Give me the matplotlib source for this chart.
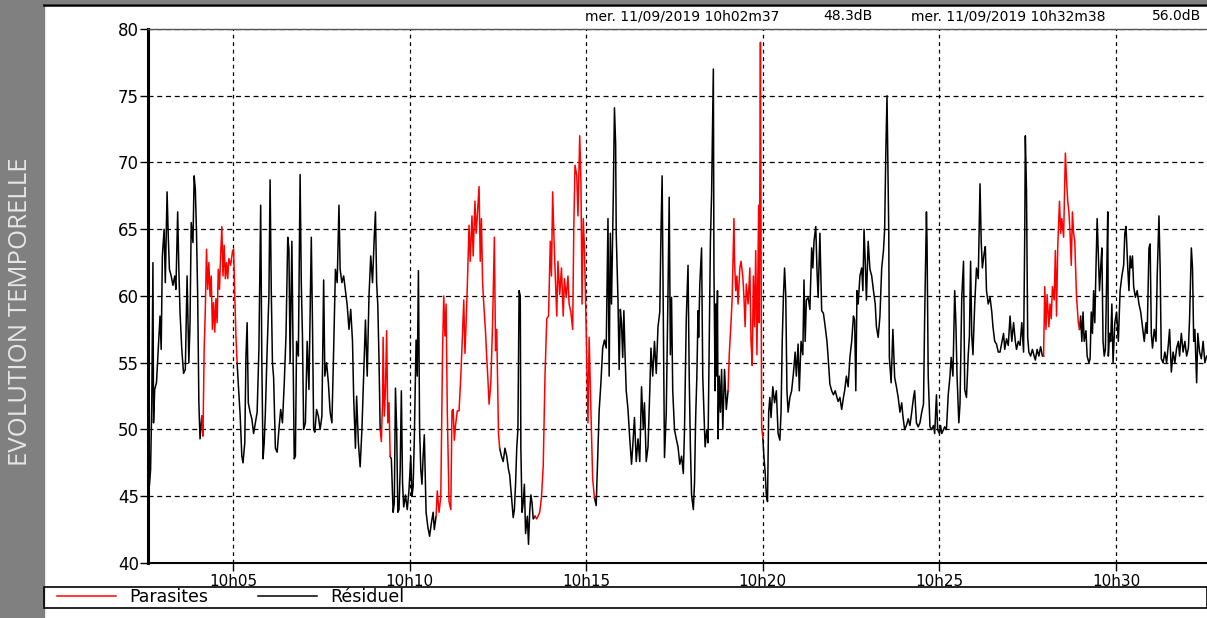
import numpy as np
import matplotlib.pyplot as plt
from matplotlib.patches import Rectangle
from matplotlib.lines import Line2D

# sound level, seconds after 10h00m00 -> dB
t_sec = [
    156, 158, 160, 162, 164, 165, 167, 170, 173, 176, 178, 180, 183, 185, 188, 190, 192, 195, 198, 201,
    203, 206, 208, 210, 213, 216, 219, 222, 225, 227, 229, 232, 234, 236, 238, 240, 242, 244, 247, 249,
    251, 253, 255, 257, 259, 261, 263, 265, 267, 269, 271, 273, 275, 277, 279, 281, 283, 285, 287, 289,
    291, 293, 296, 299, 301, 303, 305, 307, 309, 312, 315, 317, 320, 322, 324, 326, 329, 332, 335, 338,
    341, 344, 347, 349, 351, 353, 355, 358, 361, 363, 365, 367, 369, 372, 375, 378, 381, 384, 387, 390,
    393, 395, 397, 400, 402, 404, 406, 408, 411, 414, 416, 418, 420, 423, 426, 429, 433, 435, 437, 439,
    442, 445, 448, 451, 454, 456, 459, 462, 465, 468, 471, 474, 477, 480, 482, 485, 488, 491, 494, 497,
    500, 503, 505, 508, 510, 513, 516, 519, 522, 525, 528, 531, 534, 537, 540, 542, 544, 546, 548, 550,
    552, 554, 555, 557, 559, 561, 563, 565, 567, 569, 572, 574, 576, 578, 580, 582, 584, 586, 588, 590,
    593, 596, 599, 602, 604, 606, 608, 611, 613, 615, 617, 619, 621, 623, 625, 628, 631, 634, 637, 640,
    642, 645, 647, 650, 653, 656, 658, 660, 662, 664, 667, 670, 672, 674, 676, 678, 681, 684, 687, 690,
    692, 694, 696, 698, 701, 703, 706, 708, 711, 713, 715, 718, 720, 722, 724, 726, 729, 731, 733, 735,
    738, 741, 744, 746, 748, 751, 753, 756, 759, 762, 765, 768, 770, 773, 776, 778, 780, 782, 784, 786,
    788, 789, 791, 793, 795, 797, 800, 802, 804, 806, 808, 810, 813, 816, 819, 821, 824, 827, 830, 833,
    836, 839, 841, 843, 845, 847, 850, 852, 855, 858, 861, 863, 866, 869, 871, 874, 877, 879, 881, 884,
    886, 889, 891, 893, 895, 897, 900, 903, 905, 908, 911, 914, 917, 920, 922, 925, 928, 931, 934, 937,
    939, 941, 943, 946, 948, 950, 951, 954, 956, 958, 960, 962, 964, 966, 968, 971, 974, 977, 979, 982,
    985, 988, 991, 994, 997, 999, 1002, 1005, 1008, 1010, 1013, 1016, 1019, 1022, 1025, 1027, 1029, 1031, 1033, 1036,
    1039, 1041, 1043, 1045, 1047, 1050, 1053, 1056, 1059, 1062, 1065, 1067, 1070, 1073, 1075, 1077, 1079, 1082, 1084, 1086,
    1088, 1090, 1091, 1093, 1096, 1098, 1100, 1102, 1105, 1107, 1109, 1111, 1113, 1116, 1117, 1119, 1120, 1121, 1123, 1124,
    1126, 1128, 1130, 1132, 1135, 1138, 1141, 1143, 1146, 1148, 1151, 1152, 1154, 1156, 1158, 1161, 1163, 1166, 1168, 1170,
    1172, 1175, 1178, 1180, 1182, 1184, 1186, 1188, 1190, 1193, 1194, 1196, 1197, 1198, 1200, 1202, 1204, 1206, 1208, 1210,
    1212, 1214, 1217, 1220, 1223, 1226, 1229, 1231, 1233, 1235, 1237, 1239, 1241, 1243, 1246, 1249, 1252, 1255, 1257, 1260,
    1262, 1265, 1268, 1270, 1272, 1274, 1277, 1280, 1283, 1285, 1287, 1290, 1292, 1294, 1297, 1300, 1303, 1306, 1309, 1311,
    1314, 1317, 1320, 1323, 1326, 1328, 1331, 1334, 1337, 1339, 1342, 1345, 1348, 1351, 1354, 1356, 1358, 1360, 1362, 1365,
    1368, 1370, 1372, 1374, 1376, 1379, 1382, 1385, 1388, 1391, 1393, 1396, 1399, 1402, 1405, 1407, 1409, 1411, 1412, 1414,
    1415, 1418, 1421, 1424, 1427, 1430, 1433, 1436, 1438, 1441, 1444, 1447, 1450, 1453, 1456, 1458, 1461, 1464, 1467, 1470,
    1473, 1475, 1478, 1479, 1481, 1484, 1487, 1490, 1492, 1495, 1497, 1500, 1502, 1504, 1507, 1509, 1512, 1515, 1518, 1520,
    1523, 1526, 1528, 1530, 1533, 1535, 1538, 1541, 1543, 1546, 1549, 1551, 1553, 1555, 1557, 1560, 1563, 1566, 1569, 1571,
    1573, 1576, 1578, 1580, 1583, 1586, 1589, 1591, 1594, 1597, 1600, 1603, 1606, 1609, 1611, 1614, 1617, 1620, 1623, 1626,
    1629, 1631, 1634, 1637, 1640, 1643, 1645, 1646, 1648, 1650, 1652, 1655, 1658, 1661, 1663, 1666, 1669, 1672, 1675, 1677,
    1679, 1681, 1683, 1686, 1688, 1690, 1692, 1695, 1697, 1699, 1701, 1704, 1706, 1708, 1711, 1714, 1716, 1718, 1720, 1722,
    1724, 1726, 1728, 1730, 1731, 1733, 1736, 1738, 1740, 1742, 1744, 1746, 1749, 1751, 1754, 1756, 1758, 1760, 1762, 1764,
    1766, 1768, 1770, 1772, 1774, 1776, 1778, 1780, 1782, 1784, 1786, 1787, 1789, 1791, 1793, 1795, 1798, 1801, 1804, 1807,
    1810, 1813, 1815, 1817, 1820, 1822, 1824, 1826, 1828, 1830, 1833, 1836, 1839, 1842, 1845, 1848, 1851, 1853, 1856, 1858,
    1860, 1862, 1865, 1868, 1870, 1873, 1875, 1877, 1880, 1883, 1886, 1889, 1891, 1894, 1897, 1900, 1903, 1906, 1908, 1911,
    1914, 1917, 1920, 1923, 1925, 1928, 1930, 1932, 1934, 1937, 1939, 1942, 1945, 1948, 1951, 1954,
]
level_db = [
    46.5, 45.8, 47.0, 52.0, 62.5, 50.5, 53.0, 53.5, 56.0, 58.5, 56.0, 63.0, 65.0, 61.0, 67.8, 64.5, 62.0, 61.5, 60.8, 61.5,
    60.5, 66.3, 62.0, 58.8, 56.0, 54.2, 54.5, 61.5, 55.0, 58.0, 65.5, 64.0, 69.0, 68.0, 64.7, 60.0, 52.0, 49.3, 51.0, 49.5,
    56.0, 59.0, 63.5, 60.5, 62.5, 60.0, 61.5, 57.5, 59.5, 57.3, 59.8, 58.0, 62.0, 60.5, 63.0, 65.2, 61.5, 63.8, 61.3, 62.5,
    61.3, 62.8, 62.3, 63.3, 63.5, 60.0, 57.0, 55.0, 53.4, 51.2, 48.0, 47.5, 49.0, 55.5, 58.0, 52.0, 51.3, 50.8, 49.7, 50.5,
    51.3, 56.0, 66.8, 55.0, 47.8, 49.0, 51.3, 56.0, 60.0, 68.7, 60.4, 55.0, 53.9, 48.6, 48.3, 50.0, 51.5, 50.5, 53.4, 57.0,
    64.4, 63.5, 55.0, 64.1, 56.0, 47.8, 48.0, 56.6, 55.5, 69.1, 60.9, 57.0, 50.0, 50.5, 56.6, 53.0, 64.4, 58.0, 50.0, 49.8,
    51.5, 51.0, 50.0, 51.0, 61.2, 54.0, 55.0, 53.5, 51.3, 50.5, 56.0, 62.0, 61.0, 66.8, 62.0, 61.0, 61.5, 60.4, 59.3, 57.5,
    59.0, 56.6, 52.4, 48.6, 52.5, 49.0, 47.2, 50.0, 54.0, 58.2, 54.0, 60.0, 63.0, 61.0, 64.5, 66.3, 61.0, 59.3, 55.3, 50.0,
    49.1, 52.0, 56.9, 51.0, 53.0, 57.4, 50.5, 52.0, 48.0, 47.8, 43.8, 44.5, 53.1, 50.0, 43.8, 44.0, 47.0, 52.9, 46.0, 44.2,
    45.1, 44.0, 45.5, 48.0, 45.0, 45.7, 49.3, 56.7, 54.0, 61.9, 50.0, 47.0, 45.9, 48.0, 49.6, 43.8, 42.7, 42.0, 43.0, 43.8,
    42.5, 43.5, 45.4, 43.8, 45.0, 55.9, 60.0, 57.0, 59.4, 51.4, 44.6, 44.0, 51.4, 51.5, 49.2, 50.3, 51.4, 51.4, 54.0, 57.3,
    59.7, 55.7, 58.0, 60.7, 65.3, 62.6, 66.0, 63.0, 67.1, 64.7, 66.0, 68.2, 62.6, 65.8, 61.0, 59.4, 57.3, 55.4, 53.8, 51.9,
    53.5, 58.0, 64.4, 55.9, 57.5, 49.7, 48.6, 48.0, 47.6, 48.6, 48.0, 47.0, 46.6, 45.0, 43.4, 44.0, 45.9, 48.6, 50.0, 60.4,
    60.0, 48.6, 43.8, 44.5, 45.9, 42.2, 43.5, 41.4, 43.8, 45.1, 44.5, 43.3, 43.5, 43.3, 43.6, 43.8, 44.9, 47.3, 54.0, 58.3,
    58.5, 64.1, 61.5, 67.8, 64.7, 62.1, 58.5, 62.6, 60.1, 62.1, 58.5, 61.3, 59.9, 61.5, 59.4, 58.8, 57.5, 65.3, 69.8, 69.0,
    66.0, 72.0, 68.7, 59.4, 65.8, 63.6, 57.5, 50.5, 56.9, 51.4, 46.3, 44.9, 44.3, 48.6, 51.4, 53.5, 56.1, 56.7, 56.1, 65.8,
    54.0, 64.7, 59.4, 67.4, 74.1, 71.4, 64.7, 59.7, 54.5, 59.0, 58.0, 55.4, 58.9, 55.6, 52.9, 51.5, 49.3, 47.4, 48.7, 50.9,
    47.6, 49.3, 47.6, 53.2, 50.0, 52.0, 47.6, 48.7, 52.9, 56.1, 54.0, 56.6, 54.2, 57.7, 58.8, 64.7, 69.0, 58.8, 47.9, 51.2,
    60.4, 67.4, 55.6, 59.9, 52.9, 50.0, 49.3, 48.7, 47.4, 48.0, 46.7, 50.0, 58.3, 62.3, 54.0, 48.7, 45.1, 44.0, 46.0, 51.0,
    54.0, 58.9, 56.9, 60.9, 63.6, 54.0, 51.3, 48.7, 50.0, 49.0, 56.6, 64.1, 67.6, 77.0, 62.1, 52.9, 59.4, 54.0, 60.4, 49.3,
    54.0, 51.3, 54.5, 50.0, 54.5, 51.5, 52.9, 55.6, 58.0, 59.9, 65.8, 62.6, 60.4, 61.5, 59.4, 62.1, 62.6, 61.5, 59.9, 57.7,
    60.9, 59.4, 62.1, 56.6, 54.8, 61.5, 57.7, 63.4, 55.6, 66.8, 58.0, 79.0, 64.7, 50.2, 49.4, 47.9, 46.8, 45.1, 44.6, 51.3,
    52.4, 50.9, 53.2, 52.0, 52.9, 49.7, 49.2, 51.3, 56.6, 59.9, 62.1, 60.1, 52.9, 51.3, 52.4, 52.9, 54.2, 55.8, 54.0, 56.4,
    52.9, 56.6, 55.6, 61.2, 56.6, 59.7, 59.9, 59.0, 63.6, 62.1, 64.1, 65.2, 62.0, 59.9, 64.7, 58.9, 58.7, 57.7, 56.6, 55.4,
    53.4, 52.9, 52.6, 52.9, 52.4, 52.1, 52.4, 51.5, 52.4, 52.9, 54.0, 53.2, 55.4, 56.6, 58.5, 58.2, 52.9, 60.4, 59.4, 61.5,
    62.1, 60.4, 65.0, 62.6, 59.7, 64.1, 62.0, 61.5, 60.4, 59.4, 57.7, 56.9, 58.5, 62.1, 63.4, 65.0, 70.8, 75.0, 71.4, 64.7,
    55.4, 53.5, 57.5, 53.9, 53.2, 52.4, 51.3, 52.0, 51.0, 50.0, 50.3, 50.8, 50.3, 51.3, 52.4, 52.9, 50.5, 50.2, 50.5, 51.3,
    51.9, 58.5, 66.3, 64.1, 54.0, 50.2, 50.0, 50.3, 49.7, 52.6, 50.0, 49.7, 50.3, 49.7, 50.0, 50.2, 50.0, 52.6, 54.0, 55.4,
    54.0, 60.4, 58.0, 54.0, 50.5, 51.9, 59.9, 62.6, 53.0, 52.4, 55.6, 57.0, 62.6, 57.0, 55.6, 59.4, 62.1, 61.3, 68.4, 64.1,
    62.1, 63.2, 63.7, 60.4, 59.4, 59.9, 58.8, 57.7, 56.6, 56.4, 55.8, 55.8, 56.5, 57.2, 56.0, 56.8, 56.3, 58.5, 56.6, 58.0,
    56.6, 56.0, 56.6, 56.3, 58.0, 55.8, 64.7, 72.0, 67.8, 56.9, 55.8, 55.5, 56.0, 55.5, 55.2, 56.0, 55.5, 56.2, 55.5, 55.5,
    60.7, 57.5, 60.1, 57.7, 59.4, 58.3, 60.7, 59.7, 63.4, 58.5, 63.6, 67.1, 64.7, 65.8, 64.4, 70.7, 68.7, 67.1, 66.3, 64.7,
    62.3, 66.3, 64.7, 64.1, 62.6, 59.9, 58.0, 57.5, 58.5, 56.6, 58.8, 56.6, 57.4, 55.5, 55.0, 55.3, 58.8, 57.2, 60.4, 58.0,
    62.1, 65.8, 63.0, 60.4, 62.1, 63.6, 56.6, 55.5, 56.0, 60.9, 66.3, 55.5, 57.2, 56.6, 59.4, 55.0, 58.0, 58.8, 56.6, 60.4,
    61.5, 62.3, 64.7, 65.2, 62.1, 60.4, 63.0, 62.1, 63.0, 60.7, 59.9, 60.4, 59.4, 58.8, 57.7, 56.6, 58.0, 57.2, 63.6, 63.9,
    57.2, 56.1, 57.5, 56.6, 61.5, 66.0, 62.1, 55.3, 55.0, 55.8, 55.0, 56.4, 57.5, 54.3, 55.8, 55.0, 56.1, 56.6, 55.5, 57.2,
    55.8, 56.6, 55.5, 56.1, 58.3, 63.6, 62.1, 56.6, 57.5, 53.5, 57.2, 55.8, 55.3, 56.6, 55.0, 55.5,
]
# periods flagged as "Parasites" (start, end in seconds)
parasite_spans = [(247, 307), (550, 567), (645, 753), (813, 914), (1141, 1200), (1677, 1738)]

tick_sec = [300, 600, 900, 1200, 1500, 1800]
tick_names = ['10h05', '10h10', '10h15', '10h20', '10h25', '10h30']
y_ticks = [40, 45, 50, 55, 60, 65, 70, 75, 80]
cursor_left = ('mer. 11/09/2019 10h02m37', '48.3dB')
cursor_right = ('mer. 11/09/2019 10h32m38', '56.0dB')

plt.rcParams['font.family'] = ['DejaVu Sans']

t = np.array(t_sec, dtype=float)
db = np.array(level_db, dtype=float)

# residual = everything not strictly inside a parasite span
inside = np.zeros(len(t), dtype=bool)
for a, b in parasite_spans:
    inside |= (t > a) & (t < b)
residual = np.where(inside, np.nan, db)

W, H = 1207, 618
fig = plt.figure(figsize=(W / 100, H / 100), dpi=100)
ax = fig.add_axes([148 / W, 55 / H, 1059 / W, 534 / H])

res_line, = ax.plot(t, residual, color='black', lw=1.1, zorder=3)
for a, b in parasite_spans:
    sel = (t >= a) & (t <= b)
    par_line, = ax.plot(t[sel], db[sel], color='#ff0000', lw=1.1, zorder=3)

ax.set_xlim(155.6, 1954.6)
ax.set_ylim(40, 80)
ax.set_xticks(tick_sec, tick_names)
ax.set_yticks(y_ticks, [str(v) for v in y_ticks])
ax.tick_params(axis='x', length=6, width=1, pad=2, labelsize=11)
ax.tick_params(axis='y', length=6, width=1, pad=0.5, labelsize=12)
ax.grid(axis='y', color='black', ls=(0, (4, 3)), lw=0.9)
ax.grid(axis='x', color='black', ls=(0, (3, 3)), lw=0.9)
ax.spines['left'].set_linewidth(2.2)
ax.spines['bottom'].set_linewidth(1.5)
ax.spines['top'].set_color('#555555')
ax.spines['top'].set_linewidth(1.0)
ax.spines['right'].set_visible(False)

# side band with title
fig.patches.append(Rectangle((0, 0), 44 / W, 1, transform=fig.transFigure,
                             color='#808080', zorder=0))
fig.text(21 / W, 1 - 312 / H, 'EVOLUTION TEMPORELLE', rotation=90, color='#e6e6e6',
         family='Open Sans', fontsize=18.5, ha='center', va='center')

# top frame and cursor readout
fig.patches.append(Rectangle((0, 1 - 3 / H), 1, 3 / H, transform=fig.transFigure,
                             color='#808080', zorder=0))
fig.lines.append(Line2D([44 / W, 1], [1 - 5 / H] * 2, transform=fig.transFigure,
                        color='black', lw=1.8))
fig.text(585 / W, 1 - 16 / H, cursor_left[0], fontsize=10, va='center')
fig.text(823 / W, 1 - 16 / H, cursor_left[1], fontsize=10, va='center')
fig.text(911 / W, 1 - 16 / H, cursor_right[0], fontsize=10, va='center')
fig.text(1152 / W, 1 - 16 / H, cursor_right[1], fontsize=10, va='center')

# legend strip
fig.patches.append(Rectangle((44 / W, 10 / H), 1 - 44 / W, 21 / H, transform=fig.transFigure,
                             fill=False, edgecolor='black', lw=1.2))
fig.legend([par_line, res_line], ['Parasites', 'Résiduel'], loc='center left',
           bbox_to_anchor=(57 / W, 20.5 / H), frameon=False, ncol=2, fontsize=12.5,
           handlelength=3.4, handletextpad=0.75, columnspacing=2.9, borderpad=0,
           borderaxespad=0)

fig.savefig('out.png', dpi=100)
